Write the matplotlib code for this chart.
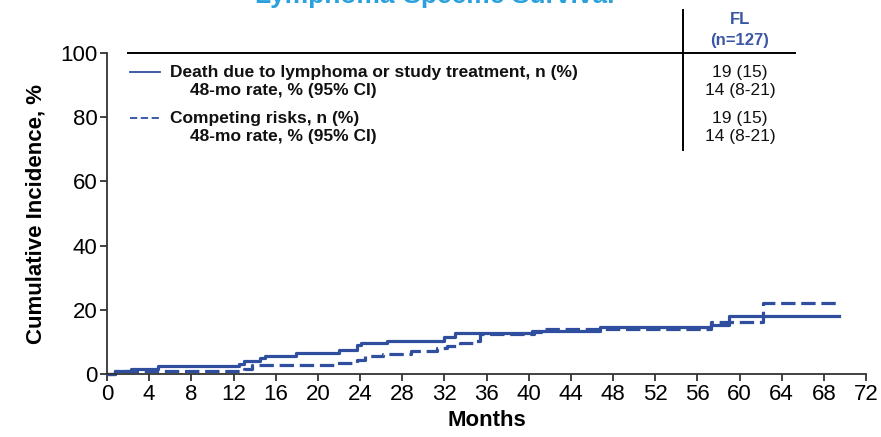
import numpy as np
import matplotlib
matplotlib.use('Agg')
import matplotlib.pyplot as plt
from matplotlib.lines import Line2D

plt.rcParams['font.family'] = ['Liberation Sans', 'DejaVu Sans']

# step curves (months, cumulative incidence %)
death_t = [0, 0.8, 2.3, 4.8, 12.5, 13.0, 14.5, 15.0, 17.9, 22.0, 23.7, 24.1, 26.6, 32.0, 33.0, 40.3, 46.8, 57.3, 59.0, 69.4]
death_v = [0, 0.8, 1.6, 2.4, 3.2, 4.0, 4.9, 5.7, 6.5, 7.4, 8.9, 9.7, 10.4, 11.4, 12.8, 13.5, 14.6, 15.3, 18.2, 18.2]

comp_t = [0, 0.8, 13.0, 13.8, 21.5, 23.7, 24.5, 26.2, 28.8, 31.3, 32.3, 33.5, 35.0, 35.4, 40.5, 41.5, 57.3, 62.2, 69.4]
comp_v = [0, 0.8, 1.6, 2.8, 3.5, 4.4, 5.6, 6.3, 7.2, 8.0, 8.7, 9.6, 10.4, 12.4, 13.2, 13.9, 16.2, 22.1, 22.1]

row_labels = ['Death due to lymphoma or study treatment, n (%)', '48-mo rate, % (95% CI)',
              'Competing risks, n (%)', '48-mo rate, % (95% CI)']
row_values = ['19 (15)', '14 (8-21)', '19 (15)', '14 (8-21)']
col_head = ['FL', '(n=127)']

xticks = np.arange(0, 73, 4)
yticks = np.arange(0, 101, 20)

W, H = 881, 437
LINE = '#2f4e9e'
HEAD = '#3a56a5'

def fx(x):
    return x / W

def fy(y):
    return 1 - y / H

fig = plt.figure(figsize=(W / 100, H / 100), dpi=100)
ax = fig.add_axes([fx(107), fy(374), fx(866) - fx(107), fy(53) - fy(374)])

ax.step(death_t, death_v, where='post', color=LINE, lw=2.3, clip_on=False)
ax.step(comp_t, comp_v, where='post', color=LINE, lw=2.3, clip_on=False,
        linestyle=(0, (4.5, 1.8)))

ax.set_xlim(0, 72)
ax.set_ylim(0, 100)
ax.set_xticks(xticks)
ax.set_yticks(yticks)
for s in ['top', 'right']:
    ax.spines[s].set_visible(False)
for s in ['left', 'bottom']:
    ax.spines[s].set_color('#333333')
    ax.spines[s].set_linewidth(1.3)
ax.tick_params(direction='out', length=5, width=1.3, color='#333333',
               labelsize=16, pad=2)
ax.set_xlabel('Months', fontsize=16, fontweight='bold', labelpad=4)
ax.set_ylabel('Cumulative Incidence, %', fontsize=16, fontweight='bold', labelpad=10)

# title, mostly cut off at the top of the picture
fig.text(fx(435), fy(3), 'Lymphoma-Specific Survival', color='#2aa1dd',
         fontsize=19, fontweight='bold', ha='center', va='baseline')

# table drawn over the plot area
fig.add_artist(Line2D([fx(128), fx(795)], [fy(53), fy(53)], color='black', lw=1.4))
fig.add_artist(Line2D([fx(683), fx(683)], [fy(10), fy(150)], color='black', lw=1.4))
fig.text(fx(740), fy(20), col_head[0], color=HEAD, fontsize=12, fontweight='bold', ha='center', va='center')
fig.text(fx(740), fy(40), col_head[1], color=HEAD, fontsize=12, fontweight='bold', ha='center', va='center')

fig.add_artist(Line2D([fx(130), fx(160)], [fy(72), fy(72)], color=LINE, lw=1.3))
fig.add_artist(Line2D([fx(130), fx(160)], [fy(118), fy(118)], color=LINE, lw=1.3,
                      linestyle=(0, (4, 2))))

row_y = [72, 90, 118, 137]
row_x = [170, 190, 170, 190]
for lab, val, y, x in zip(row_labels, row_values, row_y, row_x):
    fig.text(fx(x), fy(y), lab, fontsize=12.5, fontweight='bold', ha='left', va='center', color='#111111')
    fig.text(fx(740), fy(y), val, fontsize=12.5, ha='center', va='center', color='#111111')

fig.savefig('out.png', dpi=100)
